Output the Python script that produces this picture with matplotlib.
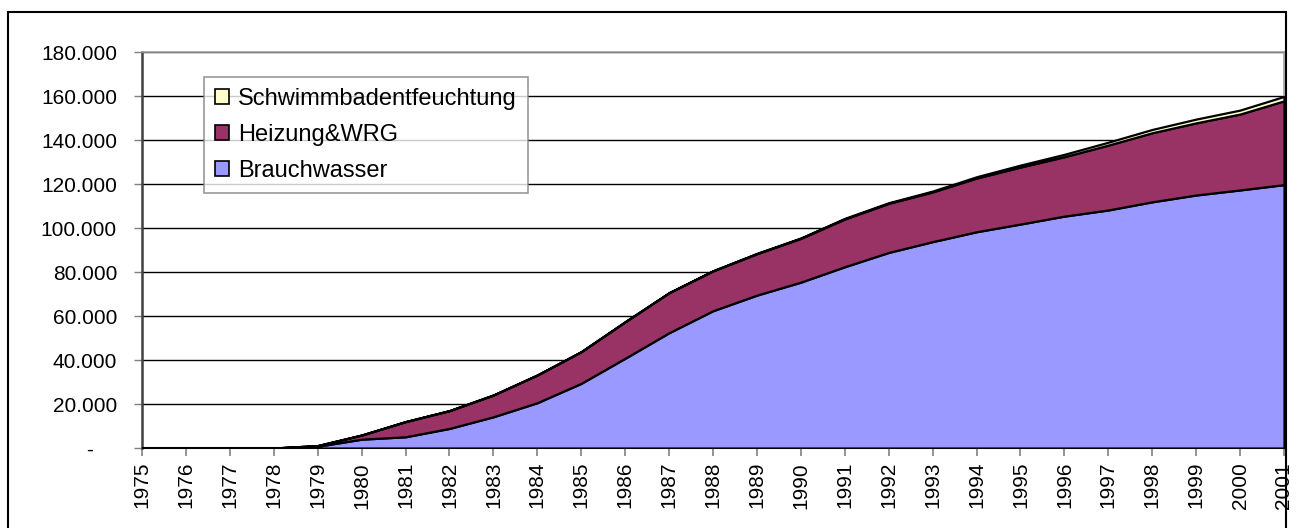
import matplotlib
matplotlib.use('Agg')
import matplotlib.pyplot as plt
from matplotlib.patches import Rectangle
from matplotlib.ticker import FuncFormatter

plt.rcParams['font.family'] = ['Liberation Sans', 'DejaVu Sans']

# data
years = list(range(1975, 2002))
brauchwasser = [0, 0, 0, 0, 800, 4000, 5100, 8900, 14200, 20600, 29400, 40800, 52400, 62400,
                69500, 75400, 82400, 88900, 93800, 98300, 101800, 105400, 108200, 111900,
                115000, 117300, 119700]
heizung = [0, 0, 0, 0, 300, 1900, 6900, 8100, 9900, 12600, 14400, 16600, 18200, 18100,
           18800, 19900, 21700, 22300, 22600, 24400, 25900, 27000, 29500, 31400,
           32800, 34500, 38100]
schwimmbad = [0, 0, 0, 0, 0, 0, 0, 0, 0, 0, 0, 0, 0, 100,
              200, 200, 300, 300, 400, 600, 900, 1100, 1300, 1500,
              1700, 1800, 2000]
labels = ['Brauchwasser', 'Heizung&WRG', 'Schwimmbadentfeuchtung']
colors = ['#9999FF', '#993366', '#FFFFCC']

W, H = 1299, 528
fig = plt.figure(figsize=(W / 100, H / 100), dpi=100)
ax = fig.add_axes([142 / W, 1 - 448 / H, (1284 - 142) / W, (448 - 52) / H])

polys = ax.stackplot(years, brauchwasser, heizung, schwimmbad, labels=labels, colors=colors,
                     edgecolor='black', linewidth=1.6, zorder=3)

ax.set_xlim(1975, 2001)
ax.set_ylim(0, 180000)
ax.set_yticks(range(0, 180001, 20000))
ax.yaxis.set_major_formatter(FuncFormatter(
    lambda v, p: '-    ' if v == 0 else f'{int(v):,}'.replace(',', '.')))
ax.set_xticks(years)
ax.set_xticklabels([str(y) for y in years], rotation=90)

ax.grid(axis='y', color='black', linewidth=1.0, zorder=1)
ax.set_axisbelow(True)
ax.tick_params(axis='y', direction='out', length=6, width=1, color='#808080',
               labelsize=15, pad=12)
ax.tick_params(axis='x', direction='out', length=6, width=1.2, color='#808080',
               labelsize=15, pad=4)

for side in ['top', 'right']:
    ax.spines[side].set_color('#A0A0A0')
    ax.spines[side].set_linewidth(1.2)
ax.spines['left'].set_color('#404040')
ax.spines['left'].set_linewidth(1.8)
ax.spines['bottom'].set_color('#606060')
ax.spines['bottom'].set_linewidth(1.5)

handles, labs = ax.get_legend_handles_labels()
leg = ax.legend(handles[::-1], labs[::-1], loc='upper left',
                bbox_to_anchor=(204 / W, 1 - 77 / H), bbox_transform=fig.transFigure,
                borderaxespad=0, fontsize=17, frameon=True, fancybox=False,
                edgecolor='#808080', handlelength=0.6, handleheight=0.6,
                handletextpad=0.4, labelspacing=0.6, borderpad=0.45)
leg.get_frame().set_linewidth(1.2)
leg.set_zorder(5)
for h in leg.legend_handles:
    h.set_edgecolor('black')
    h.set_linewidth(1.2)

# outer chart border
fig.patches.append(Rectangle((8 / W, -0.01), (1286 - 8) / W, 1 - 12 / H + 0.01,
                             transform=fig.transFigure, fill=False,
                             edgecolor='black', linewidth=1.5))

fig.savefig('out.png', dpi=100)
